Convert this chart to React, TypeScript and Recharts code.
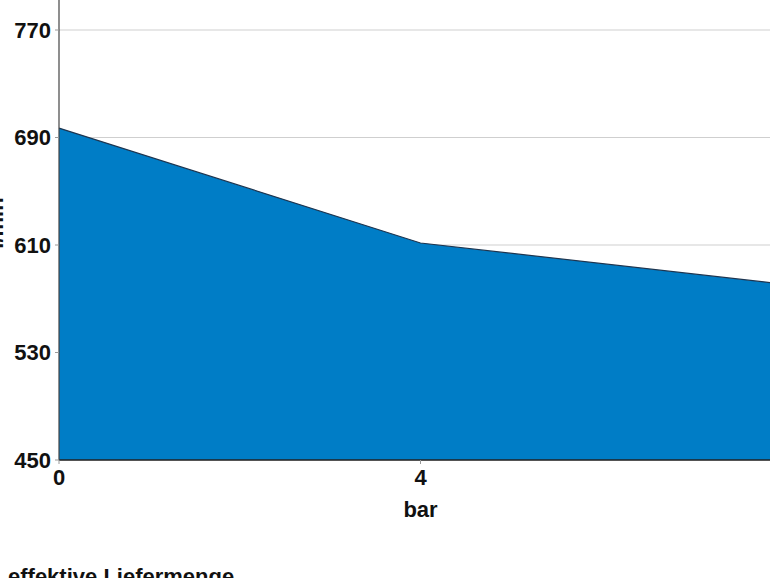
import { Area, AreaChart, CartesianGrid, Label, XAxis, YAxis } from "recharts";

const pressureBar = [0, 4, 8];
const flowLmin = [697, 611.5, 581];
const yTicks = [450, 530, 610, 690, 770, 850];
const xTicks = [0, 4, 8];

const data = pressureBar.map((p, i) => ({ bar: p, flow: flowLmin[i] }));

const font = "'Liberation Sans', Arial, sans-serif";

export default function App() {
  return (
    <div
      style={{
        position: "fixed",
        top: 0,
        left: 0,
        width: 770,
        height: 578,
        overflow: "hidden",
        background: "#fff",
        fontFamily: font,
      }}
    >
      <div style={{ position: "absolute", top: -100, left: 0 }}>
        <AreaChart
          width={800}
          height={640}
          data={data}
          margin={{ top: 22.5, right: 18, left: 0, bottom: 0 }}
        >
          <CartesianGrid vertical={false} stroke="#cfcfcf" strokeWidth={1.2} />
          <XAxis
            dataKey="bar"
            type="number"
            domain={[0, 8]}
            ticks={xTicks}
            height={80}
            tickSize={4}
            tickMargin={5}
            axisLine={{ stroke: "#222", strokeWidth: 1.5 }}
            tickLine={{ stroke: "#999" }}
            tick={{ fill: "#111", fontSize: 22, fontWeight: 700, fontFamily: font }}
          >
            <Label
              value="bar"
              position="insideBottom"
              offset={23}
              style={{ fill: "#111", fontSize: 22, fontWeight: 700, fontFamily: font }}
            />
          </XAxis>
          <YAxis
            type="number"
            domain={[450, 850]}
            ticks={yTicks}
            width={59}
            tickSize={4}
            tickMargin={4}
            interval={0}
            axisLine={{ stroke: "#444", strokeWidth: 1.2 }}
            tickLine={{ stroke: "#999" }}
            tick={{ fill: "#111", fontSize: 22, fontWeight: 700, fontFamily: font }}
          >
            <Label
              content={() => (
                <text
                  transform="translate(3, 323) rotate(-90)"
                  textAnchor="middle"
                  fill="#111"
                  fontSize={22}
                  fontWeight={700}
                  fontFamily={font}
                >
                  l/min
                </text>
              )}
            />
          </YAxis>
          <Area
            type="linear"
            dataKey="flow"
            stroke="#1d3550"
            strokeWidth={1.2}
            fill="#007dc6"
            fillOpacity={1}
            baseValue={450}
            isAnimationActive={false}
            dot={false}
            activeDot={false}
          />
        </AreaChart>
      </div>
      <div
        style={{
          position: "absolute",
          top: 566,
          left: 8,
          fontSize: 22,
          fontWeight: 700,
          lineHeight: "22px",
          color: "#111",
          whiteSpace: "nowrap",
        }}
      >
        effektive Liefermenge
      </div>
    </div>
  );
}
